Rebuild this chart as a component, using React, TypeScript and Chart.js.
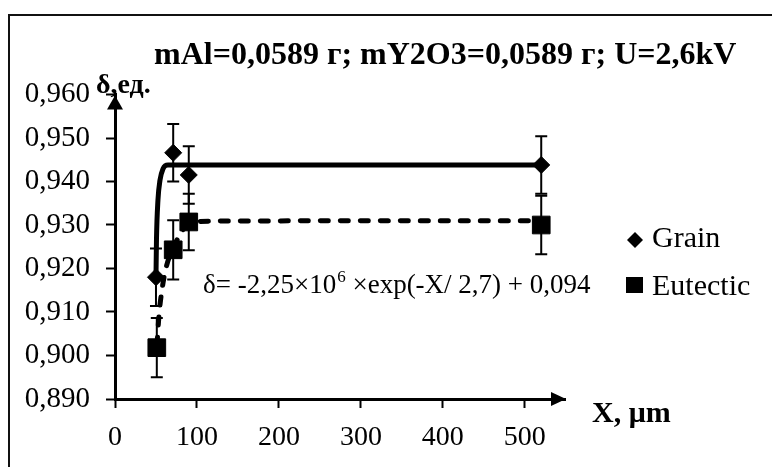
import React, { useEffect, useRef } from 'react';
import { Chart, registerables } from 'chart.js';

Chart.register(...registerables);

// ---- data ----
const seriesNames = ['Grain', 'Eutectic'];
const grainX = [50, 71, 90, 520];
const grainY = [0.918, 0.9466, 0.9415, 0.9438];
const grainErr = [0.0066, 0.0066, 0.0066, 0.0066];
const eutecticX = [51, 71, 90, 520];
const eutecticY = [0.9018, 0.9243, 0.9307, 0.93];
const eutecticErr = [0.0068, 0.0068, 0.0065, 0.0067];
const grainFitX = [50, 50.6, 52.4, 54.9, 58.5, 64.6, 520];
const grainFitY = [0.918, 0.9266, 0.9357, 0.9403, 0.9429, 0.9438, 0.9438];
const eutecticFitX = [51.2, 53.7, 57.3, 62.2, 70.7, 79.3, 86.6, 97.6, 122, 520];
const eutecticFitY = [0.9024, 0.9093, 0.9151, 0.9201, 0.9247, 0.9277, 0.9298, 0.9307, 0.9309, 0.931];
const xTicks = [0, 100, 200, 300, 400, 500];
const yTicks = [0.89, 0.9, 0.91, 0.92, 0.93, 0.94, 0.95, 0.96];
const titleText = 'mAl=0,0589 г; mY2O3=0,0589 г; U=2,6kV';
const yAxisLabel = 'δ,ед.';
const xAxisLabel = 'X, μm';
const fitTextA = 'δ= -2,25×10';
const fitTextSup = '6';
const fitTextB = ' ×exp(-X/ 2,7) + 0,094';

const FONT = "'Liberation Serif', 'Times New Roman', serif";

const pts = (xs: number[], ys: number[]) => xs.map((x, i) => ({ x, y: ys[i] }));

const errorsByDataset: Record<number, number[]> = { 0: grainErr, 1: eutecticErr };

const overlay = {
  id: 'overlay',
  beforeDatasetsDraw(chart: any) {
    const ctx = chart.ctx;
    const xs = chart.scales.x;
    const ys = chart.scales.y;
    ctx.save();
    ctx.strokeStyle = '#000';
    ctx.lineWidth = 2;
    Object.keys(errorsByDataset).forEach((k) => {
      const di = Number(k);
      const errs = errorsByDataset[di];
      const data = chart.data.datasets[di].data as { x: number; y: number }[];
      data.forEach((p, i) => {
        const px = xs.getPixelForValue(p.x);
        const top = ys.getPixelForValue(p.y + errs[i]);
        const bot = ys.getPixelForValue(p.y - errs[i]);
        ctx.beginPath();
        ctx.moveTo(px, top);
        ctx.lineTo(px, bot);
        ctx.moveTo(px - 6, top);
        ctx.lineTo(px + 6, top);
        ctx.moveTo(px - 6, bot);
        ctx.lineTo(px + 6, bot);
        ctx.stroke();
      });
    });
    ctx.restore();
  },
  afterDraw(chart: any) {
    const ctx = chart.ctx;
    const area = chart.chartArea;
    ctx.save();
    // frame
    ctx.strokeStyle = '#111';
    ctx.lineWidth = 2;
    ctx.strokeRect(9, 15, 900, 600);
    // arrows
    ctx.fillStyle = '#000';
    const ax = area.left;
    ctx.beginPath();
    ctx.moveTo(ax, area.top + 1);
    ctx.lineTo(ax - 8, area.top + 15);
    ctx.lineTo(ax + 8, area.top + 15);
    ctx.closePath();
    ctx.fill();
    const ay = area.bottom;
    ctx.beginPath();
    ctx.moveTo(area.right + 1, ay);
    ctx.lineTo(area.right - 14, ay - 7);
    ctx.lineTo(area.right - 14, ay + 7);
    ctx.closePath();
    ctx.fill();
    // title
    ctx.fillStyle = '#000';
    ctx.textBaseline = 'alphabetic';
    ctx.textAlign = 'left';
    ctx.font = `bold 32px ${FONT}`;
    ctx.fillText(titleText, 154, 64);
    // axis labels
    ctx.font = `bold 28px ${FONT}`;
    ctx.fillText(yAxisLabel, 96, 93);
    ctx.font = `bold 30px ${FONT}`;
    ctx.fillText(xAxisLabel, 592, 422);
    // fit equation
    ctx.font = `27px ${FONT}`;
    let x = 203;
    ctx.fillText(fitTextA, x, 293);
    x += ctx.measureText(fitTextA).width;
    ctx.font = `17px ${FONT}`;
    ctx.fillText(fitTextSup, x + 1, 282);
    x += ctx.measureText(fitTextSup).width + 1;
    ctx.font = `27px ${FONT}`;
    ctx.fillText(fitTextB, x, 293);
    // legend
    ctx.beginPath();
    ctx.moveTo(635, 232);
    ctx.lineTo(643, 240);
    ctx.lineTo(635, 248);
    ctx.lineTo(627, 240);
    ctx.closePath();
    ctx.fill();
    ctx.fillRect(626, 277, 17, 16);
    ctx.font = `30px ${FONT}`;
    ctx.fillText(seriesNames[0], 652, 247);
    ctx.fillText(seriesNames[1], 652, 295);
    ctx.restore();
  },
};

export default function App() {
  const ref = useRef<HTMLCanvasElement | null>(null);
  useEffect(() => {
    if (!ref.current) return;
    const axisCommon = {
      grid: { drawOnChartArea: false, drawTicks: true, tickLength: 9, tickWidth: 2, tickColor: '#000' },
      border: { display: true, width: 3, color: '#000' },
    };
    const chart = new Chart(ref.current, {
      type: 'scatter',
      data: {
        datasets: [
          {
            label: seriesNames[0],
            data: pts(grainX, grainY),
            pointStyle: 'rectRot',
            pointRadius: 8.5,
            backgroundColor: '#000',
            borderColor: '#000',
            borderWidth: 1,
            showLine: false,
          },
          {
            label: seriesNames[1],
            data: pts(eutecticX, eutecticY),
            pointStyle: 'rect',
            pointRadius: 12.5,
            backgroundColor: '#000',
            borderColor: '#000',
            borderWidth: 1,
            showLine: false,
          },
          {
            label: 'Grain fit',
            data: pts(grainFitX, grainFitY),
            showLine: true,
            pointRadius: 0,
            borderColor: '#000',
            borderWidth: 5,
            borderCapStyle: 'round',
            borderJoinStyle: 'round',
            cubicInterpolationMode: 'monotone',
            fill: false,
          },
          {
            label: 'Eutectic fit',
            data: pts(eutecticFitX, eutecticFitY),
            showLine: true,
            pointRadius: 0,
            borderColor: '#000',
            borderWidth: 5,
            borderDash: [8, 12],
            borderCapStyle: 'round',
            borderJoinStyle: 'round',
            cubicInterpolationMode: 'monotone',
            fill: false,
          },
        ],
      } as any,
      options: {
        responsive: false,
        animation: false,
        events: [],
        layout: { padding: { top: 94.5, right: 207, left: 0, bottom: 0 } },
        plugins: {
          legend: { display: false },
          tooltip: { enabled: false },
          title: { display: false },
        },
        scales: {
          x: {
            type: 'linear',
            min: 0,
            max: 549,
            afterFit: (s: any) => { s.height = 68; },
            afterBuildTicks: (s: any) => { s.ticks = xTicks.map((v) => ({ value: v })); },
            ticks: {
              color: '#000',
              font: { family: FONT, size: 28 },
              padding: 13,
              maxRotation: 0,
              autoSkip: false,
              callback: (v: any) => String(v),
            },
            ...axisCommon,
          },
          y: {
            type: 'linear',
            min: 0.89,
            max: 0.96,
            afterFit: (s: any) => { s.width = 115; },
            afterBuildTicks: (s: any) => { s.ticks = yTicks.map((v) => ({ value: v })); },
            ticks: {
              color: '#000',
              font: { family: FONT, size: 29 },
              padding: 16,
              autoSkip: false,
              callback: (v: any) => Number(v).toFixed(3).replace('.', ','),
            },
            ...axisCommon,
          },
        },
      } as any,
      plugins: [overlay],
    });
    return () => chart.destroy();
  }, []);
  return (
    <div style={{ position: 'fixed', left: 0, top: 0, width: 772, height: 467, background: '#fff' }}>
      <canvas ref={ref} width={772} height={467} style={{ display: 'block', width: 772, height: 467 }} />
    </div>
  );
}
